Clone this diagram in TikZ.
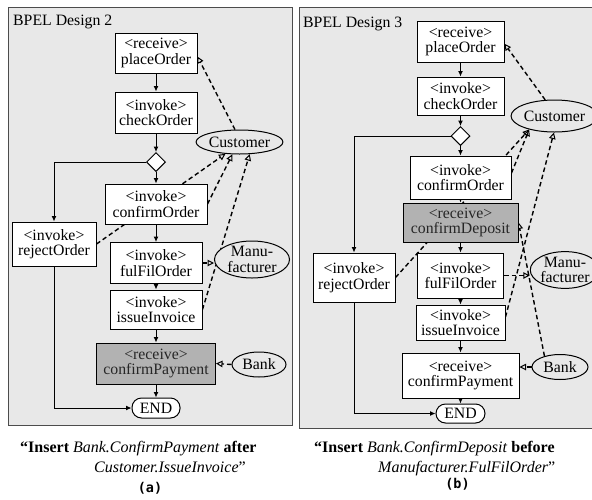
\documentclass[tikz,border=0pt]{standalone}
\usepackage{fontspec}
\setmainfont{Liberation Serif}
\newfontfamily\labelmono{DejaVu Sans Mono}
\usetikzlibrary{arrows.meta,shapes.geometric}
\pgfdeclarelayer{panel}
\pgfdeclarelayer{links}
\pgfsetlayers{panel,links,main}
\definecolor{panelgray}{gray}{0.91}

\begin{document}
\begin{tikzpicture}[x=1pt,y=-1pt,
  nodefont/.style={font=\fontsize{15.8}{15.5}\selectfont},
  act/.style={nodefont, draw=black, line width=1pt, fill=white,
    inner sep=0pt, align=center},
  newact/.style={act, fill=black!30, text=black!85},
  gate/.style={draw=black, line width=1pt, fill=white, diamond,
    inner sep=0pt, minimum width=19pt, minimum height=19pt},
  terminal/.style={act, rounded corners=9.5pt},
  partner/.style={nodefont, draw=black, line width=1pt, ellipse,
    inner sep=0pt, align=center, fill=panelgray},
  flow/.style={line width=1pt, -{Latex[length=5.5pt,width=5pt]}},
  dep/.style={line width=1.4pt, dash pattern=on 4.5pt off 3pt,
    -{Triangle[open,length=6.5pt,width=6.5pt,line width=1pt]}},
  paneltitle/.style={nodefont, anchor=west, inner sep=0pt},
  captext/.style={font=\fontsize{16}{16}\selectfont, anchor=base west, inner sep=0pt},
  panellabel/.style={font=\labelmono\bfseries\fontsize{13.5}{13.5}\selectfont, inner sep=0pt}
]
\useasboundingbox (0,0) rectangle (592,499);

% ---------------- design 2 ----------------
\node[paneltitle] (titleA) at (13,22) {BPEL Design 2};
\node[act, minimum width=82pt, minimum height=40pt] (pa) at (156,53) {<receive>\\placeOrder};
\node[act, minimum width=82pt, minimum height=41pt] (ca) at (156,112.5) {<invoke>\\checkOrder};
\node[gate] (da) at (156,162) {};
\node[act, minimum width=102pt, minimum height=40pt] (coa) at (156,204) {<invoke>\\confirmOrder};
\node[act, minimum width=84pt, minimum height=44pt] (roa) at (54,244) {<invoke>\\rejectOrder};
\node[act, minimum width=92pt, minimum height=41pt] (foa) at (156,263) {<invoke>\\fulFilOrder};
\node[act, minimum width=92pt, minimum height=39pt] (ioa) at (156,309.5) {<invoke>\\issueInvoice};
\node[newact, minimum width=119pt, minimum height=41pt] (cpa) at (156,363.5) {<receive>\\confirmPayment};
\node[terminal, minimum width=48pt, minimum height=20pt] (enda) at (156,408) {END};
\node[partner, minimum width=66pt, minimum height=24pt] (custa) at (239.5,142) {Customer};
\node[partner, minimum width=75pt, minimum height=37pt] (manua) at (252,259.5) {Manu-\\facturer};
\node[partner, minimum width=54pt, minimum height=25pt] (banka) at (259,364.5) {Bank};

\node[captext] (capA1) at (20,452) {\textbf{“Insert} \textit{Bank.ConfirmPayment} \textbf{after}};
\node[captext] (capA2) at (94,472) {\textit{Customer.IssueInvoice}”};
\node[panellabel] (labA) at (150,488) {(a)};

% ---------------- design 3 ----------------
\node[paneltitle] (titleB) at (303,24) {BPEL Design 3};
\node[act, minimum width=87pt, minimum height=41pt] (pb) at (460.5,41.5) {<receive>\\placeOrder};
\node[act, minimum width=87pt, minimum height=38pt] (cb) at (460.5,96) {<invoke>\\checkOrder};
\node[gate] (db) at (460.5,136) {};
\node[act, minimum width=101pt, minimum height=43pt] (cob) at (460.5,177.5) {<invoke>\\confirmOrder};
\node[newact, minimum width=115pt, minimum height=39pt] (cdb) at (460.5,222.5) {<receive>\\confirmDeposit};
\node[act, minimum width=82pt, minimum height=49pt] (rob) at (354,277.5) {<invoke>\\rejectOrder};
\node[act, minimum width=86pt, minimum height=45pt] (fob) at (460.5,275.5) {<invoke>\\fulFilOrder};
\node[act, minimum width=89pt, minimum height=35pt] (iob) at (460.5,322.5) {<invoke>\\issueInvoice};
\node[act, minimum width=117pt, minimum height=45pt] (cpb) at (460.5,375.5) {<receive>\\confirmPayment};
\node[terminal, minimum width=49pt, minimum height=19pt] (endb) at (460.5,413.5) {END};
\node[partner, minimum width=75pt, minimum height=32pt] (custb) at (554.5,116) {Customer};
\node[partner, minimum width=56pt, minimum height=34pt] (manub) at (565,270) {Manu-\\facturer};
\node[partner, minimum width=56pt, minimum height=25pt] (bankb) at (560,367) {Bank};

\node[captext] (capB1) at (314,452) {\textbf{“Insert} \textit{Bank.ConfirmDeposit} \textbf{before}};
\node[captext] (capB2) at (378,472) {\textit{Manufacturer.FulFilOrder}”};
\node[panellabel] (labB) at (457.5,484) {(b)};

% panel backgrounds
\begin{pgfonlayer}{panel}
  \draw[draw=black!70, line width=1pt, fill=panelgray] (8,7) rectangle (292,425);
  \draw[draw=black!70, line width=1pt, fill=panelgray] (299,7) rectangle (597,428);
\end{pgfonlayer}

% control flow and partner links
\begin{pgfonlayer}{links}
  % design 2
  \draw[flow] (pa) -- (ca);
  \draw[flow] (ca) -- (da);
  \draw[flow] (da) -- (coa);
  \draw[flow] (da.west) -| (roa.north);
  \draw[flow] (coa) -- (foa);
  \draw[flow] (foa) -- (ioa);
  \draw[flow] (ioa) -- (cpa);
  \draw[flow] (cpa) -- (enda);
  \draw[flow] (roa.south) |- (enda.west);
  \draw[dep] (custa.110) -- (pa.-5);
  \draw[dep] (roa.east) -- (custa.220);
  \draw[dep] (coa.east) -- (custa.240);
  \draw[dep] (ioa.east) -- (custa.310);
  \draw[dep] (foa.east) -- (foa.east -| manua.west);
  \draw[dep] (banka.west) -- (cpa.east);
  % design 3
  \draw[flow] (pb) -- (cb);
  \draw[flow] (cb) -- (db);
  \draw[flow] (db) -- (cob);
  \draw[flow] (cob) -- (cdb);
  \draw[flow] (cdb) -- (fob);
  \draw[flow] (db.west) -| (rob.north);
  \draw[flow] (fob) -- (iob);
  \draw[flow] (iob) -- (cpb);
  \draw[flow] (cpb) -- (endb);
  \draw[flow] (rob.south) |- (endb.west);
  \draw[dep] (custb.120) -- (pb.-3);
  \draw[dep] (rob.east) -- (custb.208);
  \draw[dep] (cob.5) -- (custb.208);
  \draw[dep] (iob.7) -- (custb.268);
  \draw[dep] (bankb.145) -- (cdb.east);
  \draw[dep] (fob.east) -- (fob.east -| manub.west);
  \draw[dep] (bankb.west) -- (cpb.east |- bankb.west);
\end{pgfonlayer}
\end{tikzpicture}
\end{document}
